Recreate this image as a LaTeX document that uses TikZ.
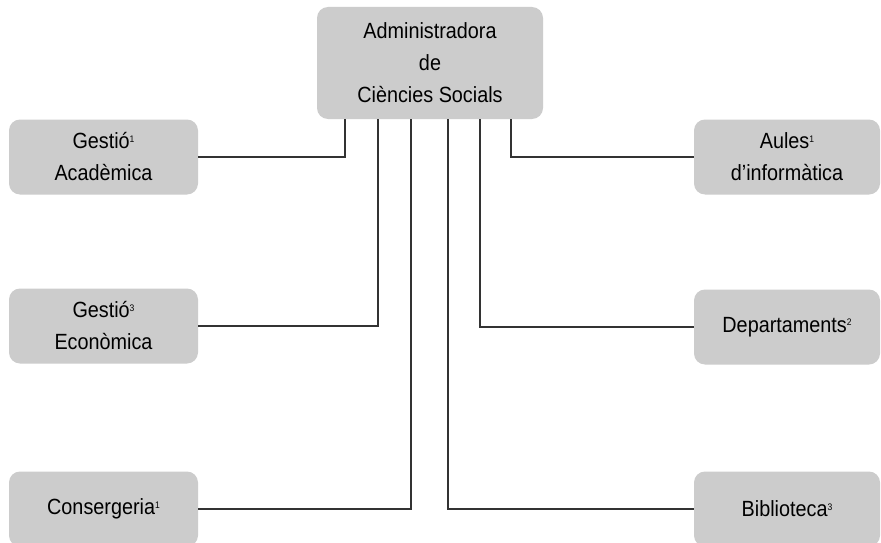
\documentclass[tikz,border=0pt]{standalone}
\usepackage{fontspec}
\setmainfont{Liberation Sans}[FakeStretch=0.9]
\newcommand{\nsup}[1]{\raisebox{6.5pt}{\fontsize{9.5}{9.5}\selectfont #1}}
\definecolor{boxgray}{HTML}{CCCCCC}
\definecolor{linegray}{HTML}{333333}
\tikzset{
  box/.style={fill=boxgray, rounded corners=11pt, align=center, inner sep=0pt,
    font=\fontsize{22}{32}\selectfont},
  topbox/.style={box, minimum width=226pt, minimum height=112pt},
  leftbox/.style={box, minimum width=189pt, minimum height=75pt},
  rightbox/.style={box, minimum width=186pt, minimum height=75pt},
  conn/.style={draw=linegray, line width=1.3pt}
}
\begin{document}
\begin{tikzpicture}[x=1pt, y=-1pt]
\fill[white] (0,0) rectangle (881,543);
\useasboundingbox (0,0) rectangle (881,543);
\node[topbox] (top) at (430,63) {Administradora\\de\\Ciències Socials};
\node[leftbox] (ga) at (103.5,157) {Gestió\nsup{1}\\Acadèmica};
\node[leftbox] (ge) at (103.5,326) {Gestió\nsup{3}\\Econòmica};
\node[leftbox] (co) at (103.5,509) {Consergeria\nsup{1}};
\node[rightbox] (au) at (787,157) {Aules\nsup{1}\\d’informàtica};
\node[rightbox] (de) at (787,327) {Departaments\nsup{2}};
\node[rightbox] (bi) at (787,509) {Biblioteca\nsup{3}};
\draw[conn] (ga.east) -| ([xshift=-85pt]top.south);
\draw[conn] (ge.east) -| ([xshift=-52pt]top.south);
\draw[conn] (co.east) -| ([xshift=-19pt]top.south);
\draw[conn] (bi.west) -| ([xshift=18pt]top.south);
\draw[conn] (de.west) -| ([xshift=50pt]top.south);
\draw[conn] (au.west) -| ([xshift=81pt]top.south);
\end{tikzpicture}
\end{document}
